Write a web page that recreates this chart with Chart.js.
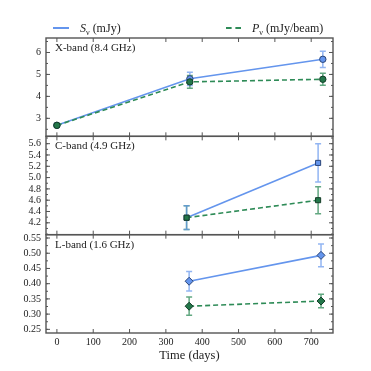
<!DOCTYPE html>
<html>
<head>
<meta charset="utf-8">
<script src="https://cdn.jsdelivr.net/npm/chart.js@4.4.0/dist/chart.umd.min.js"></script>
<style>
  body { margin: 0; background: #fff; }
  #wrap { position: relative; width: 371px; height: 371px; font-family: "Liberation Serif", serif; }
  #myChart { position: absolute; left: 0; top: 0; }
  .leg { position: absolute; top: 20px; font-size: 12px; color: #222; line-height: 16px; white-space: nowrap; }
  .leg sub { font-size: 8px; line-height: 0; }
  .swatch { position: absolute; top: 27px; height: 0; }
</style>
</head>
<body>
<div id="wrap">
  <canvas id="myChart" width="371" height="371"></canvas>
  <div class="swatch" style="left:53px;width:16px;border-top:2px solid #6495ED"></div>
  <div class="leg" style="left:80px"><i>S</i><sub>ν</sub> (mJy)</div>
  <div class="swatch" style="left:226px;width:15px;border-top:2px dashed #2E8B57"></div>
  <div class="leg" style="left:252px"><i>P</i><sub>ν</sub> (mJy/beam)</div>
</div>
<script>
// x axis
const xTicks = [0, 100, 200, 300, 400, 500, 600, 700];

// X-band (8.4 GHz)
const xDays = [0, 366, 732];
const xS = [2.68, 4.80, 5.69];
const xSErr = [0.09, 0.30, 0.37];
const xP = [2.68, 4.66, 4.78];
const xPErr = [0.08, 0.29, 0.27];
const xYTicks = [3, 4, 5, 6];

// C-band (4.9 GHz)
const cDays = [357, 719];
const cS = [4.29, 5.26];
const cSErr = [0.21, 0.34];
const cP = [4.29, 4.60];
const cPErr = [0.21, 0.24];
const cYTicks = [4.2, 4.4, 4.6, 4.8, 5.0, 5.2, 5.4, 5.6];

// L-band (1.6 GHz)
const lDays = [364, 727];
const lS = [0.408, 0.493];
const lSErr = [0.032, 0.037];
const lP = [0.326, 0.343];
const lPErr = [0.030, 0.022];
const lYTicks = [0.25, 0.30, 0.35, 0.40, 0.45, 0.50, 0.55];

const bandLabels = ["X-band (8.4 GHz)", "C-band (4.9 GHz)", "L-band (1.6 GHz)"];

const blue = "#6495ED";
const green = "#2E8B57";
const serif = "'Liberation Serif', serif";

function pts(days, vals) {
  return days.map((d, i) => ({ x: d, y: vals[i] }));
}

function sSet(days, vals, errs, axis, style, radius) {
  return {
    label: "S", data: pts(days, vals), errors: errs, errColor: "rgba(100,149,237,0.7)",
    yAxisID: axis, borderColor: blue, borderWidth: 1.6, pointStyle: style, pointRadius: radius,
    pointBackgroundColor: blue, pointBorderColor: "#2b4577", pointBorderWidth: 1, order: 1,
  };
}

function pSet(days, vals, errs, axis, style, radius) {
  return {
    label: "P", data: pts(days, vals), errors: errs, errColor: "rgba(46,139,87,0.75)",
    yAxisID: axis, borderColor: green, borderWidth: 1.6, borderDash: [5, 3], pointStyle: style,
    pointRadius: radius, pointBackgroundColor: "#23774a", pointBorderColor: "#143d27",
    pointBorderWidth: 1, order: 0,
  };
}

function yAxis(ticks, min, max, digits, minorStep, weight, label) {
  return {
    type: "linear", position: "left", stack: "bands", stackWeight: 1, weight: weight,
    min: min, max: max, minorStep: minorStep, bandLabel: label,
    grid: { display: false, drawTicks: false }, border: { display: false },
    afterBuildTicks: (scale) => { scale.ticks = ticks.map((v) => ({ value: v })); },
    afterFit: (scale) => { scale.width = 46; },
    ticks: {
      autoSkip: false, padding: 5, color: "#222", font: { family: serif, size: 10 },
      callback: (v) => Number(v).toFixed(digits),
    },
  };
}

const panelPlugin = {
  id: "panels",
  beforeDatasetsDraw(chart) {
    const ctx = chart.ctx;
    const xs = chart.scales.x;
    chart.data.datasets.forEach((ds) => {
      const ys = chart.scales[ds.yAxisID];
      ctx.save();
      ctx.strokeStyle = ds.errColor;
      ctx.lineWidth = 1.5;
      ds.data.forEach((p, j) => {
        const px = xs.getPixelForValue(p.x);
        const y1 = ys.getPixelForValue(p.y + ds.errors[j]);
        const y2 = ys.getPixelForValue(p.y - ds.errors[j]);
        ctx.beginPath();
        ctx.moveTo(px, y1); ctx.lineTo(px, y2);
        ctx.moveTo(px - 3, y1); ctx.lineTo(px + 3, y1);
        ctx.moveTo(px - 3, y2); ctx.lineTo(px + 3, y2);
        ctx.stroke();
      });
      ctx.restore();
    });
  },
  afterDatasetsDraw(chart) {
    const ctx = chart.ctx;
    const xs = chart.scales.x;
    ["yX", "yC", "yL"].forEach((id) => {
      const ys = chart.scales[id];
      const opts = ys.options;
      ctx.save();
      ctx.strokeStyle = "#555";
      ctx.lineWidth = 1;
      // ticks pointing inwards on all four sides
      ctx.beginPath();
      ys.ticks.forEach((t) => {
        const py = ys.getPixelForValue(t.value);
        ctx.moveTo(xs.left, py); ctx.lineTo(xs.left + 4, py);
        ctx.moveTo(xs.right, py); ctx.lineTo(xs.right - 4, py);
      });
      const step = opts.minorStep;
      for (let v = Math.ceil(opts.min / step) * step; v <= opts.max; v += step) {
        const py = ys.getPixelForValue(v);
        ctx.moveTo(xs.left, py); ctx.lineTo(xs.left + 2, py);
        ctx.moveTo(xs.right, py); ctx.lineTo(xs.right - 2, py);
      }
      xs.ticks.forEach((t) => {
        const px = xs.getPixelForValue(t.value);
        ctx.moveTo(px, ys.top); ctx.lineTo(px, ys.top + 4);
        ctx.moveTo(px, ys.bottom); ctx.lineTo(px, ys.bottom - 4);
      });
      ctx.stroke();
      // frame
      ctx.lineWidth = 1.4;
      ctx.strokeRect(xs.left, ys.top, xs.right - xs.left, ys.bottom - ys.top);
      // band label
      ctx.fillStyle = "#222";
      ctx.font = "11px " + serif;
      ctx.textBaseline = "middle";
      ctx.fillText(opts.bandLabel, xs.left + 9, ys.top + 10);
      ctx.restore();
    });
  },
};

new Chart(document.getElementById("myChart"), {
  type: "line",
  data: {
    datasets: [
      pSet(xDays, xP, xPErr, "yX", "circle", 3.2),
      sSet(xDays, xS, xSErr, "yX", "circle", 3.2),
      pSet(cDays, cP, cPErr, "yC", "rect", 3.6),
      sSet(cDays, cS, cSErr, "yC", "rect", 3.6),
      pSet(lDays, lP, lPErr, "yL", "rectRot", 4),
      sSet(lDays, lS, lSErr, "yL", "rectRot", 4),
    ],
  },
  options: {
    responsive: false,
    animation: false,
    devicePixelRatio: 1,
    layout: { padding: { top: 38, right: 38, left: 0, bottom: 0 } },
    plugins: { legend: { display: false }, tooltip: { enabled: false } },
    scales: {
      x: {
        type: "linear", position: "bottom", min: -30, max: 760,
        grid: { display: false, drawTicks: false }, border: { display: false },
        afterBuildTicks: (scale) => { scale.ticks = xTicks.map((v) => ({ value: v })); },
        afterFit: (scale) => { scale.height = 38; },
        ticks: { padding: 3, color: "#222", font: { family: serif, size: 10 }, maxRotation: 0 },
        title: {
          display: true, text: "Time (days)", color: "#222",
          font: { family: serif, size: 12.5 }, padding: { top: 0, bottom: 7.5 },
        },
      },
      yX: yAxis(xYTicks, 2.18, 6.66, 0, 0.5, 3, bandLabels[0]),
      yC: yAxis(cYTicks, 3.99, 5.73, 1, 0.1, 2, bandLabels[1]),
      yL: yAxis(lYTicks, 0.238, 0.561, 2, 0.025, 1, bandLabels[2]),
    },
  },
  plugins: [panelPlugin],
});
</script>
</body>
</html>
